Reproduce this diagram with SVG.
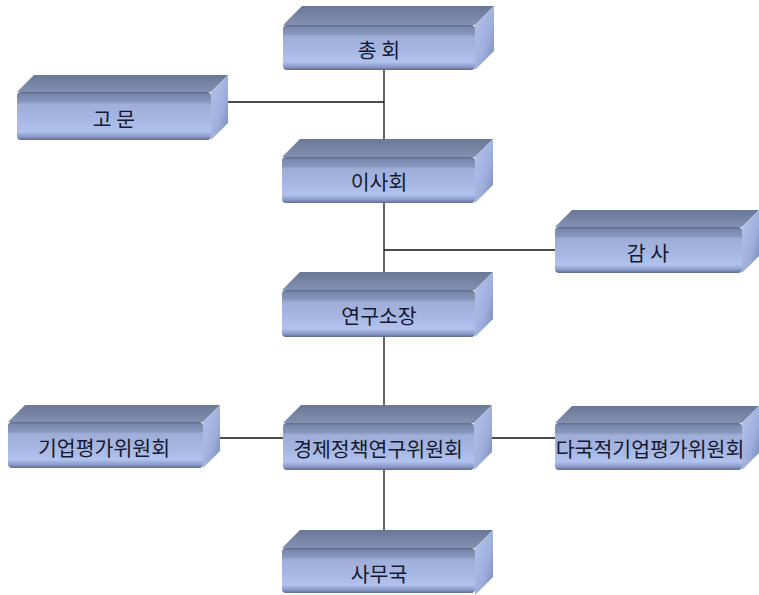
<svg xmlns="http://www.w3.org/2000/svg" width="759" height="595" viewBox="0 0 759 595">
<defs>
<linearGradient id="gFront" x1="0" y1="0" x2="0" y2="1">
<stop offset="0" stop-color="#5d6b8d"/>
<stop offset="0.06" stop-color="#7a89ae"/>
<stop offset="0.2" stop-color="#8696bc"/>
<stop offset="0.26" stop-color="#9eaed8"/>
<stop offset="0.55" stop-color="#a6b6e2"/>
<stop offset="0.82" stop-color="#b2c2ee"/>
<stop offset="0.93" stop-color="#8a9ac8"/>
<stop offset="1" stop-color="#5c6a94"/>
</linearGradient>
<linearGradient id="gTop" x1="0" y1="0" x2="0" y2="1">
<stop offset="0" stop-color="#6a7898"/>
<stop offset="1" stop-color="#8390b0"/>
</linearGradient>
<linearGradient id="gSide" x1="0" y1="0" x2="1" y2="1">
<stop offset="0" stop-color="#b6c4ec"/>
<stop offset="0.6" stop-color="#9eaedc"/>
<stop offset="1" stop-color="#7584b2"/>
</linearGradient>
</defs>
<style>
.top{fill:url(#gTop);}
.side{fill:url(#gSide);}
.front{fill:url(#gFront);}
.conn line{stroke:#111;stroke-width:1.3;}
.lbl{font-family:"Noto Sans CJK KR","Noto Sans",sans-serif;font-size:20.5px;fill:#161a30;text-anchor:middle;dominant-baseline:central;}
</style>
<rect width="759" height="595" fill="#ffffff"/>
<g id="connectors" class="conn">
<line x1="384" y1="60" x2="384" y2="157"/>
<line x1="211" y1="102" x2="384" y2="102"/>
<line x1="384" y1="195" x2="384" y2="290"/>
<line x1="384" y1="250" x2="555" y2="250"/>
<line x1="384" y1="330" x2="384" y2="423"/>
<line x1="203" y1="438" x2="555" y2="438"/>
<line x1="384" y1="460" x2="384" y2="548"/>
</g>
<g id="n-chonghoe">
<polygon class="top" points="283,25 302,6 494,6 475,25"/>
<polygon class="side" points="475,25 494,6 494,51 475,70"/>
<rect class="front" x="283" y="25" width="192" height="45" rx="4"/>
<text class="lbl" x="379" y="49">총 회</text>
</g>
<g id="n-gomun">
<polygon class="top" points="17,92 34,75 228,75 211,92"/>
<polygon class="side" points="211,92 228,75 228,123 211,140"/>
<rect class="front" x="17" y="92" width="194" height="48" rx="4"/>
<text class="lbl" x="114" y="118">고 문</text>
</g>
<g id="n-isahoe">
<polygon class="top" points="282,157 300,139 493,139 475,157"/>
<polygon class="side" points="475,157 493,139 493,185 475,203"/>
<rect class="front" x="282" y="157" width="193" height="46" rx="4"/>
<text class="lbl" x="379" y="181">이사회</text>
</g>
<g id="n-gamsa">
<polygon class="top" points="555,227 572,210 759,210 742,227"/>
<polygon class="side" points="742,227 759,210 759,256 742,273"/>
<rect class="front" x="555" y="227" width="187" height="46" rx="4"/>
<text class="lbl" x="648" y="252">감 사</text>
</g>
<g id="n-yeongusojang">
<polygon class="top" points="282,290 300,272 493,272 475,290"/>
<polygon class="side" points="475,290 493,272 493,319 475,337"/>
<rect class="front" x="282" y="290" width="193" height="47" rx="4"/>
<text class="lbl" x="379" y="315">연구소장</text>
</g>
<g id="n-gieop">
<polygon class="top" points="8,422 25,405 220,405 203,422"/>
<polygon class="side" points="203,422 220,405 220,451 203,468"/>
<rect class="front" x="8" y="422" width="195" height="46" rx="4"/>
<text class="lbl" x="104" y="447">기업평가위원회</text>
</g>
<g id="n-gyeongje">
<polygon class="top" points="283,423 301,405 492,405 474,423"/>
<polygon class="side" points="474,423 492,405 492,452 474,470"/>
<rect class="front" x="283" y="423" width="191" height="47" rx="4"/>
<text class="lbl" x="378" y="448">경제정책연구위원회</text>
</g>
<g id="n-dagukjeok">
<polygon class="top" points="555,423 572,406 759,406 742,423"/>
<polygon class="side" points="742,423 759,406 759,453 742,470"/>
<rect class="front" x="555" y="423" width="187" height="47" rx="4"/>
<text class="lbl" x="650" y="448">다국적기업평가위원회</text>
</g>
<g id="n-samuguk">
<polygon class="top" points="282,548 300,530 493,530 475,548"/>
<polygon class="side" points="475,548 493,530 493,577 475,595"/>
<rect class="front" x="282" y="548" width="193" height="45" rx="4"/>
<text class="lbl" x="379" y="573">사무국</text>
</g>
</svg>
